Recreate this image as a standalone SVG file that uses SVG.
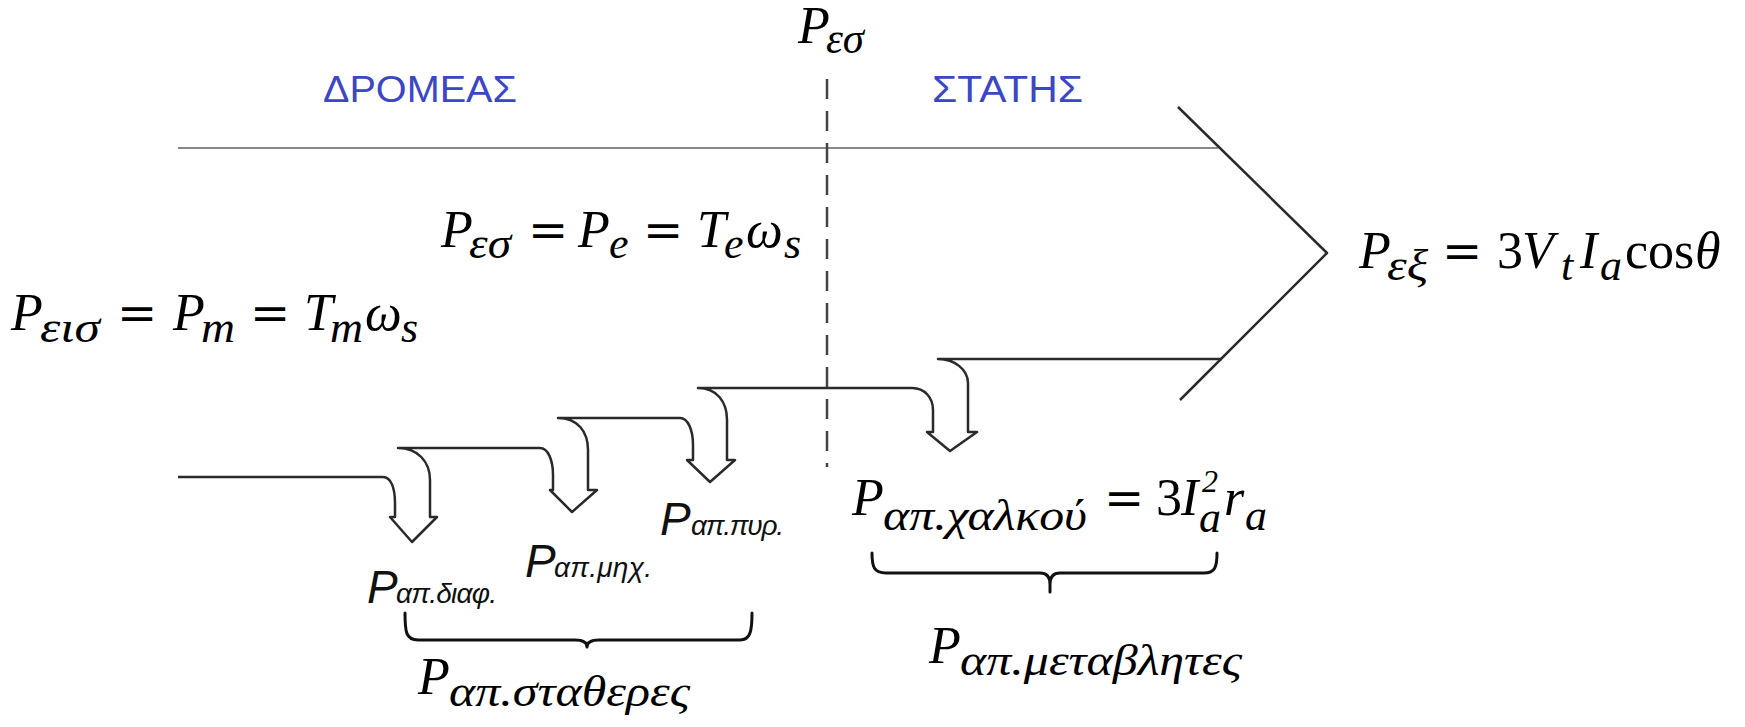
<svg xmlns="http://www.w3.org/2000/svg" width="1745" height="727" viewBox="0 0 1745 727">
<style>
.m{font-family:"Liberation Serif","DejaVu Serif",serif;font-style:italic;font-size:52px;fill:#000}
.s{font-size:44px}
.u{font-style:normal}
.eq{font-family:"DejaVu Serif",serif;font-style:normal;font-size:48px}
.g{font-family:"Liberation Sans",Arial,sans-serif;font-style:italic;fill:#111}
.gp{font-size:46px}
.gs{font-size:28px}
.blue{font-family:"Liberation Sans",Arial,sans-serif;font-size:37px;fill:#3b47c4}
.ln{fill:none;stroke:#2a2a2a;stroke-width:2.5;stroke-linejoin:round}
.br{fill:none;stroke:#111;stroke-width:3;stroke-linejoin:round;stroke-linecap:round}
</style>
<rect width="1745" height="727" fill="#fff"/>
<g id="connectors">
<path d="M178 148 H1218" fill="none" stroke="#888" stroke-width="2"/>
<path d="M827 79 V467" fill="none" stroke="#444" stroke-width="2.5" stroke-dasharray="20 12"/>
<path class="ln" d="M1178 107 L1327 253 L1180 400"/>
<path class="ln" d="M178 477 H383 C391 477 395 488 395 503 V517 H390 L412 542 L437 517 H430 V480 C430 462 418 448 398 448 H540 C548 448 553 460 553 475 V490 H550 L572 512 L597 490 H588 V450 C588 432 578 418 558 418 H680 C688 418 693 430 693 445 V460 H687 L710 482 L735 460 H727 V420 C727 402 717 388 698 388 H912 C925 388 933 398 933 410 V432 H927 L950 451 L977 432 H968 V383 C968 370 955 359 938 359 H1222"/>
<path class="br" d="M405 613 C405 632 406 640 418 640 H575 C583 640 587 642 587 647 C587 642 591 640 599 640 H740 C750 640 752 632 752 613"/>
<path class="br" d="M872 553 C872 567 874 573 886 573 H1040 C1047 573 1050 577 1050 584 V592 M1050 584 C1050 577 1053 573 1060 573 H1204 C1215 573 1217 567 1217 553"/>
</g>
<g id="rotor-label"><text class="blue" x="323" y="102" textLength="194" lengthAdjust="spacingAndGlyphs">ΔΡΟΜΕΑΣ</text></g>
<g id="stator-label"><text class="blue" x="932" y="102" textLength="151" lengthAdjust="spacingAndGlyphs">ΣΤΑΤΗΣ</text></g>
<g id="p-es-top"><text class="m" x="798" y="43">P<tspan class="s" x="826" y="53" textLength="38" lengthAdjust="spacingAndGlyphs">εσ</tspan></text></g>
<g id="p-es-eq"><text class="m" y="247"><tspan x="441">P</tspan><tspan class="s" x="469" y="258" textLength="42" lengthAdjust="spacingAndGlyphs">εσ</tspan><tspan class="eq" x="528" y="247">=</tspan><tspan x="578">P</tspan><tspan class="s" x="609" y="258">e</tspan><tspan class="eq" x="643" y="247">=</tspan><tspan x="697">T</tspan><tspan class="s" x="724" y="258">e</tspan><tspan x="746" y="247">ω</tspan><tspan class="s" x="784" y="258">s</tspan></text></g>
<g id="p-eis-eq"><text class="m" y="330"><tspan x="11">P</tspan><tspan class="s" x="40" y="342" textLength="60" lengthAdjust="spacingAndGlyphs">εισ</tspan><tspan class="eq" x="117" y="330">=</tspan><tspan x="173">P</tspan><tspan class="s" x="201" y="342" textLength="34" lengthAdjust="spacingAndGlyphs">m</tspan><tspan class="eq" x="250" y="330">=</tspan><tspan x="304">T</tspan><tspan class="s" x="330" y="342" textLength="33" lengthAdjust="spacingAndGlyphs">m</tspan><tspan x="365" y="330">ω</tspan><tspan class="s" x="401" y="342">s</tspan></text></g>
<g id="p-ex-eq"><text class="m" y="268"><tspan x="1359">P</tspan><tspan class="s" x="1387" y="280" textLength="41" lengthAdjust="spacingAndGlyphs">εξ</tspan><tspan class="eq" x="1442" y="268">=</tspan><tspan class="u" x="1497">3</tspan><tspan x="1522">V</tspan><tspan class="s" x="1561" y="280">t</tspan><tspan x="1580" y="268">I</tspan><tspan class="s" x="1600" y="280">a</tspan><tspan class="u" x="1625" y="268">cos</tspan><tspan x="1695">θ</tspan></text></g>
<g id="p-cu-eq"><text class="m" y="515"><tspan x="852">P</tspan><tspan class="s" x="883" y="530" textLength="204" lengthAdjust="spacingAndGlyphs">απ.χαλκού</tspan><tspan class="eq" x="1104" y="515">=</tspan><tspan class="u" x="1156">3</tspan><tspan x="1181">I</tspan><tspan class="s" x="1202" y="492" style="font-size:32px">2</tspan><tspan class="s" x="1199" y="532">a</tspan><tspan x="1224" y="515">r</tspan><tspan class="s" x="1245" y="530">a</tspan></text></g>
<g id="p-metavl"><text class="m" y="663"><tspan x="929">P</tspan><tspan class="s" x="960" y="675" textLength="282" lengthAdjust="spacingAndGlyphs">απ.μεταβλητες</tspan></text></g>
<g id="p-stath"><text class="m" y="694"><tspan x="418">P</tspan><tspan class="s" x="449" y="706" textLength="241" lengthAdjust="spacingAndGlyphs">απ.σταθερες</tspan></text></g>
<g id="p-diaf"><text class="g" y="603"><tspan class="gp" x="367">P</tspan><tspan class="gs" x="396" textLength="101">απ.διαφ.</tspan></text></g>
<g id="p-mix"><text class="g" y="577"><tspan class="gp" x="525">P</tspan><tspan class="gs" x="554" textLength="98">απ.μηχ.</tspan></text></g>
<g id="p-pyr"><text class="g" y="535"><tspan class="gp" x="660">P</tspan><tspan class="gs" x="691" textLength="93">απ.πυρ.</tspan></text></g>
</svg>
